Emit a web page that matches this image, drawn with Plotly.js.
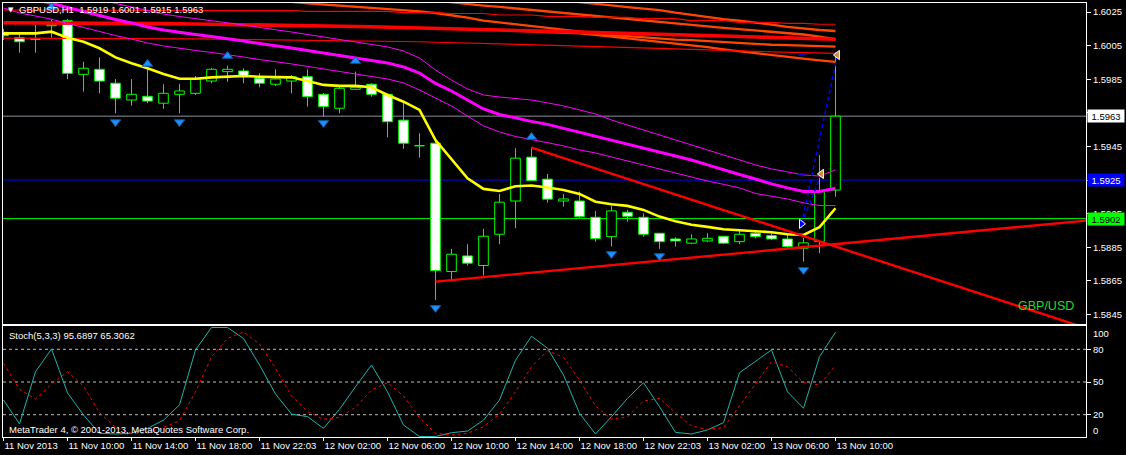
<!DOCTYPE html>
<html><head><meta charset="utf-8">
<script src="https://cdn.plot.ly/plotly-3.0.1.min.js"></script>
<style>html,body{margin:0;padding:0;background:#000;overflow:hidden}#chart{width:1126px;height:455px}</style>
</head><body><div id="chart"></div>
<script>
// ---------- DATA ----------
const symbolName = "GBPUSD";
const timeframe = "H1";
const tickBars = [0,4,8,12,16,20,24,28,32,36,40,44,48,52];
const tickLabels = ["11 Nov 2013","11 Nov 10:00","11 Nov 14:00","11 Nov 18:00","11 Nov 22:03","12 Nov 02:00","12 Nov 06:00","12 Nov 10:00","12 Nov 14:00","12 Nov 18:00","12 Nov 22:03","13 Nov 02:00","13 Nov 06:00","13 Nov 10:00"];
const yTickVals = [1.5845,1.5865,1.5885,1.5905,1.5925,1.5945,1.5965,1.5985,1.6005,1.6025];

const openP  = [1.60129,1.60097,1.60090,1.60168,1.60198,1.59879,1.59909,1.59826,1.59726,1.59748,1.59707,1.59760,1.59766,1.59839,1.59895,1.59899,1.59856,1.59820,1.59839,1.59865,1.59760,1.59677,1.59790,1.59820,1.59760,1.59606,1.59455,1.59469,1.58705,1.58798,1.58741,1.58927,1.59125,1.59386,1.59255,1.59125,1.59125,1.59028,1.58913,1.59058,1.59028,1.58933,1.58899,1.58874,1.58887,1.58915,1.58883,1.58933,1.58919,1.58899,1.58844,1.58883,1.59190];
const highP  = [1.60149,1.60129,1.60173,1.60208,1.60208,1.59954,1.59980,1.59851,1.59851,1.59917,1.59820,1.59822,1.59869,1.59917,1.59930,1.59915,1.59885,1.59909,1.59875,1.59909,1.59768,1.59816,1.59895,1.59825,1.59765,1.59716,1.59528,1.59477,1.58840,1.58868,1.58959,1.59167,1.59439,1.59444,1.59286,1.59167,1.59181,1.59066,1.59097,1.59072,1.59052,1.58935,1.58909,1.58927,1.58933,1.58917,1.58947,1.58953,1.58933,1.58933,1.58905,1.59399,1.60010];
const lowP   = [1.60083,1.60008,1.60008,1.60097,1.59850,1.59776,1.59766,1.59647,1.59693,1.59707,1.59673,1.59647,1.59756,1.59826,1.59835,1.59826,1.59802,1.59810,1.59766,1.59687,1.59627,1.59647,1.59786,1.59746,1.59504,1.59435,1.59383,1.58536,1.58655,1.58741,1.58681,1.58868,1.58963,1.59244,1.59115,1.59092,1.59026,1.58883,1.58854,1.59002,1.58913,1.58840,1.58854,1.58868,1.58880,1.58868,1.58868,1.58903,1.58893,1.58844,1.58764,1.58814,1.59150];
const closeP = [1.60109,1.60073,1.60088,1.60174,1.59885,1.59915,1.59839,1.59737,1.59760,1.59720,1.59766,1.59780,1.59851,1.59909,1.59909,1.59871,1.59826,1.59851,1.59865,1.59746,1.59687,1.59796,1.59802,1.59760,1.59597,1.59469,1.59453,1.58711,1.58808,1.58755,1.58915,1.59118,1.59380,1.59246,1.59136,1.59137,1.59032,1.58901,1.59066,1.59034,1.58927,1.58883,1.58887,1.58899,1.58903,1.58874,1.58927,1.58913,1.58899,1.58854,1.58876,1.59181,1.59630];

const maYellow = [1.60123,1.60121,1.60123,1.60133,1.60097,1.60073,1.60034,1.59980,1.59945,1.59915,1.59881,1.59853,1.59853,1.59861,1.59867,1.59869,1.59865,1.59863,1.59861,1.59839,1.59816,1.59810,1.59810,1.59802,1.59756,1.59716,1.59667,1.59488,1.59374,1.59260,1.59197,1.59185,1.59213,1.59217,1.59205,1.59191,1.59167,1.59121,1.59106,1.59096,1.59072,1.59032,1.59005,1.58984,1.58971,1.58957,1.58951,1.58947,1.58939,1.58927,1.58923,1.58969,1.59082];
const envMid = [1.60369,1.60339,1.60321,1.60302,1.60277,1.60253,1.60226,1.60205,1.60185,1.60161,1.60143,1.60128,1.60116,1.60104,1.60092,1.60077,1.60063,1.60051,1.60036,1.60021,1.60006,1.59991,1.59976,1.59961,1.59947,1.59923,1.59887,1.59825,1.59780,1.59726,1.59673,1.59640,1.59618,1.59599,1.59581,1.59557,1.59533,1.59512,1.59488,1.59462,1.59441,1.59417,1.59393,1.59369,1.59340,1.59310,1.59283,1.59256,1.59227,1.59203,1.59182,1.59182,1.59201];
const envUp = [1.60464,1.60434,1.60417,1.60397,1.60372,1.60348,1.60321,1.60301,1.60280,1.60256,1.60238,1.60223,1.60211,1.60199,1.60187,1.60173,1.60158,1.60146,1.60131,1.60116,1.60101,1.60086,1.60071,1.60057,1.60042,1.60018,1.59976,1.59905,1.59845,1.59792,1.59756,1.59744,1.59735,1.59726,1.59709,1.59691,1.59667,1.59643,1.59607,1.59578,1.59548,1.59518,1.59488,1.59459,1.59429,1.59399,1.59369,1.59340,1.59316,1.59298,1.59280,1.59274,1.59310];
const envLow = [1.60274,1.60244,1.60226,1.60207,1.60182,1.60158,1.60131,1.60110,1.60089,1.60066,1.60048,1.60033,1.60021,1.60009,1.59997,1.59982,1.59967,1.59955,1.59941,1.59926,1.59911,1.59896,1.59881,1.59866,1.59851,1.59828,1.59786,1.59738,1.59691,1.59631,1.59572,1.59536,1.59509,1.59491,1.59474,1.59453,1.59429,1.59411,1.59387,1.59363,1.59340,1.59316,1.59292,1.59268,1.59244,1.59224,1.59203,1.59170,1.59155,1.59137,1.59114,1.59098,1.59098];

const redThin1 = [1.60262,1.60262,1.60262,1.60262,1.60262,1.60262,1.60260,1.60260,1.60260,1.60260,1.60260,1.60260,1.60260,1.60258,1.60258,1.60258,1.60258,1.60258,1.60258,1.60254,1.60254,1.60254,1.60254,1.60254,1.60254,1.60246,1.60246,1.60246,1.60241,1.60241,1.60241,1.60232,1.60232,1.60232,1.60224,1.60224,1.60224,1.60218,1.60218,1.60218,1.60210,1.60210,1.60210,1.60199,1.60199,1.60199,1.60188,1.60188,1.60188,1.60182,1.60182,1.60177,1.60177];
const redThick = [1.60186,1.60186,1.60185,1.60185,1.60184,1.60184,1.60183,1.60183,1.60182,1.60181,1.60181,1.60180,1.60179,1.60178,1.60177,1.60175,1.60174,1.60172,1.60171,1.60170,1.60168,1.60166,1.60164,1.60162,1.60160,1.60158,1.60155,1.60153,1.60150,1.60148,1.60146,1.60144,1.60140,1.60138,1.60135,1.60133,1.60130,1.60128,1.60125,1.60123,1.60120,1.60118,1.60115,1.60112,1.60110,1.60107,1.60104,1.60101,1.60098,1.60095,1.60092,1.60090,1.60088];
const redThin2 = [1.60094,1.60094,1.60093,1.60093,1.60093,1.60092,1.60092,1.60092,1.60091,1.60091,1.60091,1.60090,1.60090,1.60089,1.60088,1.60087,1.60086,1.60085,1.60084,1.60083,1.60082,1.60081,1.60080,1.60078,1.60077,1.60075,1.60073,1.60070,1.60068,1.60065,1.60062,1.60060,1.60057,1.60055,1.60052,1.60050,1.60047,1.60045,1.60042,1.60039,1.60036,1.60033,1.60030,1.60028,1.60025,1.60022,1.60019,1.60016,1.60013,1.60010,1.60008,1.60006,1.60004];
const orangeA = [null,null,null,null,null,null,null,null,null,null,null,null,null,null,null,null,1.60339,1.60324,1.60310,1.60302,1.60295,1.60289,1.60283,1.60277,1.60271,1.60264,1.60254,1.60244,1.60232,1.60216,1.60199,1.60188,1.60177,1.60167,1.60155,1.60143,1.60131,1.60121,1.60113,1.60106,1.60098,1.60092,1.60086,1.60082,1.60076,1.60070,1.60063,1.60058,1.60055,1.60053,1.60050,1.60047,1.60044];
const orangeB = [null,null,null,null,null,null,null,null,null,null,null,null,null,null,null,null,null,null,null,null,null,null,null,null,null,null,null,1.60318,1.60307,1.60296,1.60288,1.60280,1.60271,1.60262,1.60252,1.60242,1.60232,1.60223,1.60214,1.60205,1.60198,1.60189,1.60181,1.60171,1.60164,1.60156,1.60148,1.60141,1.60133,1.60125,1.60116,1.60103,1.60089];
const orangeC = [null,null,null,null,null,null,null,null,null,null,null,null,null,null,null,null,null,null,null,null,null,null,null,null,null,null,null,null,null,null,null,null,null,null,null,1.60318,1.60307,1.60298,1.60289,1.60279,1.60271,1.60261,1.60246,1.60232,1.60219,1.60208,1.60198,1.60188,1.60175,1.60161,1.60150,1.60143,1.60137];
const orangeD = [null,null,null,null,null,null,null,null,null,null,null,null,null,null,null,null,null,null,null,null,null,null,null,null,null,null,null,null,1.60151,1.60149,1.60145,1.60142,1.60138,1.60135,1.60132,1.60128,1.60123,1.60114,1.60104,1.60094,1.60085,1.60074,1.60063,1.60051,1.60041,1.60028,1.60016,1.60004,1.59992,1.59981,1.59972,1.59962,1.59953];

const stochMain = [33.5,11.5,59.5,80.3,40,19.7,2.9,2.3,3,7.5,15,29,79.4,100,100,90,65.6,39,20.6,18.2,7.5,25,45.7,65.6,41,10.5,0,0,3.5,5,15,33.5,70,92,81,56.4,21.3,2.3,18.2,35,49.4,27.3,3.8,2.3,6,12.7,58.5,68.6,79.4,41,25.9,73.2,95.6897];
const stochSignal = [67,43.3,34.4,47.9,59.5,46.3,21.8,8.4,2.9,2.9,8.4,14.5,41,73.2,90,95.9,84.9,62.6,37.2,22.8,15.8,17.6,26.8,42.7,49.4,37.2,17.2,2.9,1.4,2.9,9,20.6,41,64,78.7,72.7,51.8,28,15.8,18.2,32.6,35,21.8,9.6,6.6,8.1,28,48.8,68.6,64,49.4,47.2,65.3062];
const stochLevels = [20,50,80];

// fractal arrow centres
const fractalUpBars = [3,9,14,22,33];
const fractalUpPrice = [1.60280,1.59941,1.59988,1.59958,1.59506];
const fractalDownBars = [7,11,20,27,38,41,50];
const fractalDownPrice = [1.59595,1.59595,1.59590,1.58489,1.58810,1.58798,1.58715];

const trendLowBars = [27,70];
const trendLowPrice = [1.58645,1.59029];
const trendHighBars = [33,70];
const trendHighPrice = [1.59443,1.58296];

const priceLines = [1.5963,1.5925,1.5902];
const priceLineColors = ["#8a8f98","#0000ff","#00ff00"];
const priceBoxBg = ["#ffffff","#0000ff","#00ff00"];
const priceBoxFg = ["#000000","#ffffff","#000000"];

const tradeOpenBar = [49.875];
const tradeOpenPrice = [1.58989];
const tradeCloseBar = [52.12,51.12];
const tradeClosePrice = [1.59994,1.59286];

// ---------- BUILD ----------
const bars = openP.map((_, i) => i);
const bull = bars.filter(i => closeP[i] >= openP[i]);
const bear = bars.filter(i => closeP[i] < openP[i]);
const FONT = "Liberation Sans, Arial, sans-serif";
const LIME = "#00ff00";

function body(idx, fill) {
  return {type:'bar', x: idx, base: idx.map(i => Math.min(openP[i], closeP[i])),
    y: idx.map(i => Math.max(Math.abs(closeP[i] - openP[i]), 0.000012)),
    width: 0.6, marker:{color: fill, line:{color: LIME, width: 1}},
    xaxis:'x', yaxis:'y', hoverinfo:'skip'};
}
const wx = [], wy = [];
bars.forEach(i => {
  const top = Math.max(openP[i], closeP[i]), bot = Math.min(openP[i], closeP[i]);
  wx.push(i, i, null, i, i, null);
  wy.push(highP[i], top, null, bot, lowP[i], null);
});
function line(y, color, width) {
  return {type:'scatter', mode:'lines', x: bars, y: y, line:{color: color, width: width},
    xaxis:'x', yaxis:'y', hoverinfo:'skip', connectgaps:false};
}

const traces = [
  {type:'scatter', mode:'lines', x: wx, y: wy, line:{color: LIME, width: 1}, xaxis:'x', yaxis:'y', hoverinfo:'skip'},
  body(bull, '#000000'),
  body(bear, '#ffffff'),
  line(orangeA, '#ff4500', 2.3),
  line(orangeB, '#ff4500', 2.3),
  line(orangeC, '#ff4500', 2.3),
  line(orangeD, '#ff4500', 2.3),
  line(redThin1, '#ff0000', 1.2),
  line(redThick, '#ff0000', 3.6),
  line(redThin2, '#ff0000', 1.2),
  line(envUp, '#ff00ff', 1),
  line(envLow, '#ff00ff', 1),
  line(envMid, '#ff00ff', 3),
  line(maYellow, '#ffff00', 2.6),
  {type:'scatter', mode:'lines', x: trendLowBars, y: trendLowPrice, line:{color:'#ff0000', width:2.4}, xaxis:'x', yaxis:'y', hoverinfo:'skip'},
  {type:'scatter', mode:'lines', x: trendHighBars, y: trendHighPrice, line:{color:'#ff0000', width:2.4}, xaxis:'x', yaxis:'y', hoverinfo:'skip'},
  {type:'scatter', mode:'lines', x:[tradeOpenBar[0], tradeCloseBar[0], null, tradeOpenBar[0], tradeCloseBar[1]],
    y:[tradeOpenPrice[0], tradeClosePrice[0], null, tradeOpenPrice[0], tradeClosePrice[1]],
    line:{color:'#0000ff', width:1.5, dash:'4px,3px'}, xaxis:'x', yaxis:'y', hoverinfo:'skip'},
  {type:'scatter', mode:'lines', x:[tradeOpenBar[0]-0.2, tradeOpenBar[0]+0.25, null, tradeOpenBar[0]-0.2, tradeOpenBar[0]+0.25],
    y:[tradeClosePrice[0], tradeClosePrice[0], null, tradeClosePrice[1], tradeClosePrice[1]],
    line:{color:'#0000ff', width:1.5}, xaxis:'x', yaxis:'y', hoverinfo:'skip'},
  {type:'scatter', mode:'markers', x: tradeOpenBar, y: tradeOpenPrice,
    marker:{symbol:'triangle-right', size:8, color:'#0000ff', line:{color:'#ffffff', width:1}}, xaxis:'x', yaxis:'y', hoverinfo:'skip'},
  {type:'scatter', mode:'markers', x: tradeCloseBar, y: tradeClosePrice,
    marker:{symbol:'triangle-left', size:8, color:'#d08a3a', line:{color:'#ffffff', width:1}}, xaxis:'x', yaxis:'y', hoverinfo:'skip'},
  {type:'scatter', mode:'markers', x: fractalUpBars, y: fractalUpPrice,
    marker:{symbol:'triangle-up', size:9, color:'#1e90ff', line:{color:'#0b5aa8', width:1}}, xaxis:'x', yaxis:'y', hoverinfo:'skip'},
  {type:'scatter', mode:'markers', x: fractalDownBars, y: fractalDownPrice,
    marker:{symbol:'triangle-down', size:9, color:'#1e90ff', line:{color:'#0b5aa8', width:1}}, xaxis:'x', yaxis:'y', hoverinfo:'skip'},
  {type:'scatter', mode:'lines', x: bars, y: stochMain, line:{color:'#20b2aa', width:1}, xaxis:'x2', yaxis:'y2', hoverinfo:'skip'},
  {type:'scatter', mode:'lines', x: bars, y: stochSignal, line:{color:'#ff0000', width:1, dash:'3px,3px'}, xaxis:'x2', yaxis:'y2', hoverinfo:'skip'}
];

const PL = 3, PR = 1086, PT = 3, PB = 437;
const pxX = px => (px - PL) / (PR - PL);
const pxY = py => (PB - py) / (PB - PT);
const r0 = -1/32, r1 = r0 + (PR - PL) / 16;

const shapes = [];
priceLines.forEach((p, k) => shapes.push({type:'line', xref:'paper', yref:'y', x0:0, x1:1, y0:p, y1:p,
  line:{color: priceLineColors[k], width:1}, layer:'below'}));
stochLevels.forEach(v => shapes.push({type:'line', xref:'paper', yref:'y2', x0:0, x1:1, y0:v, y1:v,
  line:{color:'#c0c0c0', width:1, dash:'3px,3px'}, layer:'below'}));

const last = openP.length - 1;
const annotations = [
  {xref:'paper', yref:'paper', x:pxX(6), y:pxY(10), xanchor:'left', yanchor:'middle', showarrow:false,
    text:'▼', font:{family:'DejaVu Sans', size:7, color:'#ffffff'}},
  {xref:'paper', yref:'paper', x:pxX(17), y:pxY(10), xanchor:'left', yanchor:'middle', showarrow:false,
    text: symbolName + ',' + timeframe + '\u00a0\u00a0' + [openP[last], highP[last], lowP[last], closeP[last]].map(v => v.toFixed(4)).join(' '),
    font:{family:FONT, size:9.5, color:'#ffffff'}},
  {xref:'paper', yref:'paper', x:pxX(1076), y:pxY(306), xanchor:'right', yanchor:'middle', showarrow:false,
    text:'GBP/USD', font:{family:FONT, size:12.5, color:'#22dd22'}},
  {xref:'paper', yref:'paper', x:pxX(7), y:pxY(335), xanchor:'left', yanchor:'middle', showarrow:false,
    text:'Stoch(5,3,3) ' + stochMain[last].toFixed(4) + ' ' + stochSignal[last].toFixed(4), font:{family:FONT, size:9.5, color:'#ffffff'}},
  {xref:'paper', yref:'paper', x:pxX(7), y:pxY(429.5), xanchor:'left', yanchor:'middle', showarrow:false,
    text:'MetaTrader 4, © 2001-2013, MetaQuotes Software Corp.', font:{family:FONT, size:9.5, color:'#ffffff'}},
  {xref:'paper', yref:'paper', x:pxX(1091), y:pxY(333), xanchor:'left', yanchor:'middle', showarrow:false,
    text:'100', font:{family:FONT, size:9.5, color:'#ffffff'}},
  {xref:'paper', yref:'paper', x:pxX(1091), y:pxY(430), xanchor:'left', yanchor:'middle', showarrow:false,
    text:'0', font:{family:FONT, size:9.5, color:'#ffffff'}}
];
priceLines.forEach((p, k) => annotations.push({xref:'paper', yref:'y', x:pxX(1087), y:p, xanchor:'left', yanchor:'middle',
  showarrow:false, text:p.toFixed(4), bgcolor:priceBoxBg[k], borderpad:1, width:34, height:10,
  font:{family:FONT, size:9.5, color:priceBoxFg[k]}}));

// tick labels that sit completely under a price box are left blank (they are hidden in the reference)
const yTickText = yTickVals.map(v => priceLines.some(p => Math.abs(p - v) < 0.00025) ? '' : v.toFixed(4));

const axisBase = {showgrid:false, zeroline:false, showline:true, mirror:true, linecolor:'#ffffff', linewidth:1, automargin:false, fixedrange:true};
const layout = {
  width:1126, height:455, paper_bgcolor:'#000000', plot_bgcolor:'#000000', showlegend:false,
  margin:{l:PL, r:1126-PR, t:PT, b:455-PB}, barmode:'overlay', hovermode:false,
  font:{family:FONT, color:'#ffffff', size:9.5},
  xaxis: Object.assign({}, axisBase, {domain:[0,1], range:[r0, r1], anchor:'y', showticklabels:false, ticks:''}),
  yaxis: Object.assign({}, axisBase, {domain:[pxY(324), 1], range:[1.6025 - (324-12)/16800, 1.6025 + (12-3)/16800], side:'right', anchor:'x',
    tickvals:yTickVals, ticktext:yTickText, ticks:'outside', ticklen:4, tickcolor:'#ffffff',
    tickfont:{family:FONT, size:9.5, color:'#ffffff'}}),
  xaxis2: Object.assign({}, axisBase, {domain:[0,1], range:[r0, r1], anchor:'y2', matches:'x',
    tickvals:tickBars, ticktext:tickLabels, ticks:'outside', ticklen:3, tickcolor:'#ffffff', tickangle:0,
    ticklabelposition:'outside right', tickfont:{family:FONT, size:9.5, color:'#ffffff'}}),
  yaxis2: Object.assign({}, axisBase, {domain:[0, pxY(326)], range:[(436.5-437)/1.09, (436.5-326)/1.09], side:'right', anchor:'x2',
    tickvals:stochLevels, ticktext:stochLevels.map(String), ticks:'outside', ticklen:4, tickcolor:'#ffffff',
    tickfont:{family:FONT, size:9.5, color:'#ffffff'}}),
  shapes: shapes, annotations: annotations
};
Plotly.newPlot('chart', traces, layout, {staticPlot:true, displayModeBar:false});
</script>
</body></html>
